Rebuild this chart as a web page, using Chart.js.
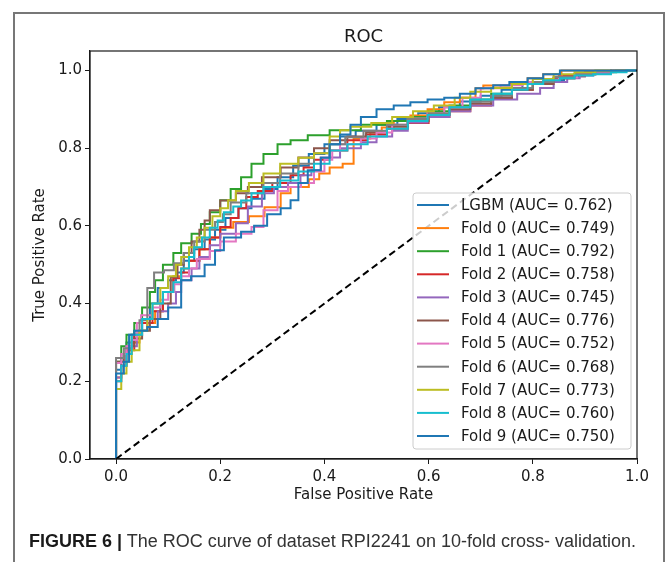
<!DOCTYPE html>
<html>
<head>
<meta charset="utf-8">
<script src="https://cdn.jsdelivr.net/npm/chart.js@4.4.0/dist/chart.umd.min.js"></script>
<style>
html, body { margin: 0; padding: 0; background: #fff; }
#wrap { position: relative; width: 670px; height: 562px; overflow: hidden; }
#frame { position: absolute; left: 13px; top: 12px; width: 648px; height: 620px; border: 2px solid #777; }
#roc { position: absolute; left: 0; top: 0; }
#caption { position: absolute; left: 29px; top: 531px; font-family: 'Liberation Sans', Arial, sans-serif; font-size: 18px; color: #333; white-space: nowrap; }
#caption b { color: #1a1a1a; }
</style>
</head>
<body>
<div id="wrap">
  <div id="frame"></div>
  <canvas id="roc" width="670" height="562"></canvas>
  <div id="caption"><b>FIGURE 6 |</b> The ROC curve of dataset RPI2241 on 10-fold cross- validation.</div>
</div>
<script>
// series: [fpr, tpr]
var seriesNames = ["LGBM", "Fold 0", "Fold 1", "Fold 2", "Fold 3", "Fold 4", "Fold 5", "Fold 6", "Fold 7", "Fold 8", "Fold 9"];
var aucValues = [0.762, 0.749, 0.792, 0.758, 0.745, 0.776, 0.752, 0.768, 0.773, 0.760, 0.750];
var xTicks = [0.0, 0.2, 0.4, 0.6, 0.8, 1.0];
var yTicks = [0.0, 0.2, 0.4, 0.6, 0.8, 1.0];

var lgbm = [[0,0],[0,0.19],[0.01,0.23],[0.02,0.27],[0.035,0.30],[0.05,0.33],[0.065,0.36],[0.08,0.40],[0.1,0.44],[0.115,0.46],[0.13,0.48],[0.15,0.51],[0.17,0.54],[0.19,0.565],[0.21,0.59],[0.235,0.62],[0.26,0.645],[0.285,0.67],[0.31,0.695],[0.34,0.725],[0.37,0.755],[0.4,0.785],[0.43,0.81],[0.46,0.83],[0.5,0.845],[0.54,0.86],[0.58,0.875],[0.62,0.89],[0.66,0.905],[0.7,0.92],[0.74,0.935],[0.78,0.95],[0.82,0.965],[0.86,0.975],[0.9,0.985],[0.95,0.995],[1,1]];
var fold0 = [[0,0],[0,0.17],[0.01,0.21],[0.02,0.24],[0.03,0.27],[0.045,0.30],[0.06,0.33],[0.075,0.35],[0.09,0.38],[0.11,0.43],[0.125,0.47],[0.14,0.49],[0.16,0.51],[0.18,0.54],[0.2,0.57],[0.225,0.595],[0.255,0.61],[0.285,0.625],[0.316,0.648],[0.335,0.684],[0.37,0.70],[0.39,0.72],[0.41,0.735],[0.435,0.75],[0.456,0.76],[0.456,0.81],[0.488,0.825],[0.51,0.84],[0.533,0.853],[0.565,0.87],[0.598,0.884],[0.63,0.90],[0.66,0.918],[0.69,0.93],[0.705,0.954],[0.757,0.961],[0.79,0.97],[0.82,0.98],[0.855,0.99],[0.89,1],[1,1]];
var fold1 = [[0,0],[0,0.2],[0.01,0.25],[0.02,0.29],[0.035,0.32],[0.05,0.35],[0.065,0.39],[0.075,0.43],[0.09,0.46],[0.11,0.5],[0.125,0.53],[0.145,0.555],[0.163,0.58],[0.18,0.605],[0.2,0.635],[0.22,0.666],[0.24,0.695],[0.26,0.725],[0.283,0.76],[0.31,0.785],[0.335,0.81],[0.368,0.82],[0.41,0.833],[0.47,0.846],[0.52,0.86],[0.56,0.87],[0.6,0.88],[0.64,0.895],[0.68,0.91],[0.72,0.925],[0.76,0.94],[0.8,0.955],[0.84,0.97],[0.88,0.98],[0.92,0.99],[0.96,0.995],[1,1]];
var fold2 = [[0,0],[0,0.16],[0.01,0.2],[0.02,0.24],[0.035,0.28],[0.05,0.32],[0.07,0.35],[0.09,0.38],[0.11,0.43],[0.125,0.465],[0.14,0.48],[0.16,0.51],[0.18,0.54],[0.2,0.57],[0.22,0.597],[0.235,0.62],[0.25,0.645],[0.272,0.674],[0.3,0.69],[0.335,0.71],[0.36,0.73],[0.38,0.75],[0.41,0.77],[0.444,0.794],[0.48,0.82],[0.52,0.835],[0.56,0.85],[0.6,0.865],[0.64,0.88],[0.68,0.895],[0.72,0.91],[0.76,0.93],[0.8,0.95],[0.85,0.97],[0.9,0.985],[0.95,0.995],[1,1]];
var fold3 = [[0,0],[0,0.17],[0.01,0.21],[0.02,0.24],[0.04,0.29],[0.06,0.33],[0.08,0.36],[0.1,0.38],[0.115,0.40],[0.125,0.43],[0.145,0.46],[0.16,0.49],[0.18,0.52],[0.2,0.55],[0.23,0.58],[0.253,0.607],[0.28,0.65],[0.303,0.684],[0.33,0.70],[0.354,0.71],[0.375,0.73],[0.393,0.743],[0.43,0.776],[0.47,0.80],[0.5,0.815],[0.53,0.83],[0.56,0.845],[0.598,0.866],[0.64,0.88],[0.68,0.895],[0.724,0.91],[0.77,0.925],[0.814,0.94],[0.84,0.955],[0.866,0.97],[0.89,0.98],[0.916,0.987],[0.95,0.993],[0.98,1],[1,1]];
var fold4 = [[0,0],[0,0.19],[0.015,0.25],[0.025,0.27],[0.035,0.29],[0.05,0.31],[0.065,0.33],[0.085,0.36],[0.105,0.40],[0.118,0.468],[0.13,0.5],[0.145,0.53],[0.16,0.56],[0.17,0.59],[0.18,0.614],[0.2,0.64],[0.23,0.665],[0.253,0.684],[0.28,0.70],[0.316,0.725],[0.35,0.75],[0.38,0.776],[0.41,0.80],[0.444,0.82],[0.48,0.83],[0.52,0.84],[0.56,0.855],[0.6,0.87],[0.64,0.885],[0.68,0.9],[0.72,0.915],[0.76,0.93],[0.8,0.95],[0.84,0.965],[0.88,0.98],[0.92,0.99],[0.96,0.997],[1,1]];
var fold5 = [[0,0],[0,0.229],[0.01,0.247],[0.02,0.27],[0.03,0.29],[0.04,0.306],[0.048,0.35],[0.07,0.37],[0.085,0.39],[0.1,0.41],[0.112,0.43],[0.125,0.45],[0.14,0.47],[0.155,0.49],[0.18,0.515],[0.2,0.535],[0.23,0.56],[0.26,0.58],[0.283,0.597],[0.31,0.64],[0.33,0.69],[0.355,0.70],[0.38,0.71],[0.4,0.74],[0.415,0.77],[0.43,0.794],[0.47,0.81],[0.5,0.825],[0.53,0.84],[0.56,0.86],[0.598,0.876],[0.63,0.89],[0.665,0.905],[0.7,0.93],[0.738,0.954],[0.78,0.962],[0.82,0.97],[0.85,0.976],[0.885,0.982],[0.92,0.99],[0.954,0.995],[1,1]];
var fold6 = [[0,0],[0,0.21],[0.015,0.26],[0.03,0.285],[0.045,0.32],[0.06,0.357],[0.06,0.41],[0.073,0.44],[0.092,0.48],[0.111,0.486],[0.13,0.504],[0.15,0.53],[0.17,0.56],[0.19,0.59],[0.205,0.61],[0.22,0.63],[0.25,0.66],[0.283,0.684],[0.315,0.71],[0.35,0.735],[0.38,0.76],[0.41,0.787],[0.44,0.81],[0.475,0.828],[0.52,0.845],[0.56,0.86],[0.6,0.875],[0.64,0.89],[0.68,0.905],[0.72,0.92],[0.76,0.935],[0.8,0.955],[0.84,0.97],[0.88,0.983],[0.92,0.99],[0.96,0.997],[1,1]];
var fold7 = [[0,0],[0,0.15],[0.01,0.18],[0.02,0.22],[0.03,0.25],[0.045,0.28],[0.06,0.33],[0.07,0.36],[0.085,0.4],[0.1,0.44],[0.115,0.47],[0.125,0.5],[0.14,0.52],[0.155,0.545],[0.17,0.57],[0.185,0.595],[0.2,0.625],[0.215,0.645],[0.23,0.666],[0.255,0.69],[0.283,0.71],[0.315,0.735],[0.35,0.76],[0.38,0.775],[0.41,0.787],[0.43,0.83],[0.45,0.846],[0.49,0.855],[0.53,0.865],[0.57,0.88],[0.61,0.895],[0.65,0.91],[0.68,0.93],[0.72,0.945],[0.76,0.955],[0.8,0.965],[0.84,0.978],[0.88,0.99],[0.92,0.995],[1,1]];
var fold8 = [[0,0],[0,0.15],[0.01,0.2],[0.02,0.24],[0.03,0.27],[0.05,0.32],[0.07,0.36],[0.09,0.40],[0.11,0.43],[0.125,0.455],[0.14,0.49],[0.15,0.52],[0.165,0.545],[0.18,0.57],[0.195,0.595],[0.207,0.614],[0.225,0.635],[0.24,0.65],[0.26,0.665],[0.283,0.684],[0.315,0.70],[0.35,0.717],[0.38,0.74],[0.41,0.76],[0.444,0.794],[0.483,0.81],[0.52,0.83],[0.56,0.85],[0.598,0.87],[0.64,0.885],[0.68,0.905],[0.724,0.925],[0.76,0.94],[0.79,0.95],[0.82,0.965],[0.852,0.975],[0.88,0.98],[0.916,0.987],[0.95,0.99],[0.98,0.995],[1,1]];
var fold9 = [[0,0],[0,0.22],[0.015,0.22],[0.025,0.25],[0.035,0.32],[0.06,0.33],[0.08,0.34],[0.1,0.36],[0.125,0.39],[0.144,0.46],[0.17,0.47],[0.19,0.50],[0.207,0.537],[0.207,0.56],[0.24,0.57],[0.265,0.585],[0.29,0.60],[0.316,0.63],[0.335,0.645],[0.35,0.666],[0.368,0.71],[0.393,0.743],[0.41,0.775],[0.43,0.81],[0.45,0.835],[0.47,0.86],[0.5,0.88],[0.533,0.90],[0.565,0.91],[0.598,0.918],[0.63,0.925],[0.66,0.93],[0.69,0.94],[0.724,0.954],[0.755,0.962],[0.79,0.97],[0.82,0.98],[0.852,0.99],[0.904,1],[1,1]];
var chanceLine = [[0,0],[1,1]];

var curves = [lgbm, fold0, fold1, fold2, fold3, fold4, fold5, fold6, fold7, fold8, fold9];
var colors = ['#1f77b4', '#ff7f0e', '#2ca02c', '#d62728', '#9467bd', '#8c564b', '#e377c2', '#7f7f7f', '#bcbd22', '#17becf', '#1f77b4'];
var FONT = "'DejaVu Sans', sans-serif";
var INK = '#1a1a1a';

function toXY(pts) {
    return pts.map(function (p) { return {x: p[0], y: p[1]}; });
}

var datasets = curves.map(function (c, i) {
    return {
        label: seriesNames[i] + ' (AUC= ' + aucValues[i].toFixed(3) + ')',
        data: toXY(c),
        showLine: true,
        stepped: 'after',
        borderColor: colors[i],
        borderWidth: 2,
        pointRadius: 0,
        fill: false,
        order: 100 - i
    };
});
datasets.push({
    label: '',
    data: toXY(chanceLine),
    showLine: true,
    borderColor: '#000',
    borderWidth: 2,
    borderDash: [7, 4],
    pointRadius: 0,
    fill: false,
    order: 0
});

// box round the axes, title and legend in the lower right
var decor = {
    id: 'decor',
    afterDatasetsDraw: function (chart) {
        var ctx = chart.ctx, a = chart.chartArea;
        ctx.save();
        ctx.strokeStyle = INK;
        ctx.lineWidth = 1.2;
        ctx.strokeRect(a.left, a.top, a.right - a.left, a.bottom - a.top);

        ctx.fillStyle = INK;
        ctx.font = '18px ' + FONT;
        ctx.textAlign = 'center';
        ctx.textBaseline = 'middle';
        ctx.fillText('ROC', (a.left + a.right) / 2, 37);

        var bx = a.right - 224, by = a.bottom - 266, bw = 218, bh = 256;
        ctx.beginPath();
        ctx.roundRect(bx, by, bw, bh, 3);
        ctx.fillStyle = 'rgba(255,255,255,0.8)';
        ctx.fill();
        ctx.strokeStyle = '#cccccc';
        ctx.lineWidth = 1;
        ctx.stroke();

        ctx.font = '15px ' + FONT;
        ctx.textAlign = 'left';
        for (var i = 0; i < curves.length; i++) {
            var ly = by + 12 + i * 23.1;
            ctx.strokeStyle = colors[i];
            ctx.lineWidth = 2;
            ctx.beginPath();
            ctx.moveTo(bx + 4, ly);
            ctx.lineTo(bx + 36, ly);
            ctx.stroke();
            ctx.fillStyle = INK;
            ctx.fillText(datasets[i].label, bx + 48, ly + 1);
        }
        ctx.restore();
    }
};

function fixedTicks(list) {
    return function (scale) {
        scale.ticks = list.map(function (v) { return {value: v}; });
    };
}

new Chart(document.getElementById('roc').getContext('2d'), {
    type: 'scatter',
    data: {datasets: datasets},
    options: {
        responsive: false,
        animation: false,
        devicePixelRatio: 1,
        layout: {padding: {top: 51, right: 33, bottom: 53, left: 0}},
        plugins: {
            legend: {display: false},
            tooltip: {enabled: false},
            title: {display: false}
        },
        scales: {
            x: {
                type: 'linear',
                min: -0.05,
                max: 1.0,
                afterBuildTicks: fixedTicks(xTicks),
                afterFit: function (s) { s.height = 50; },
                ticks: {
                    font: {family: FONT, size: 15},
                    color: INK,
                    padding: 4,
                    maxRotation: 0,
                    autoSkip: false,
                    callback: function (v) { return Number(v).toFixed(1); }
                },
                grid: {drawOnChartArea: false, drawTicks: true, tickLength: 5, color: INK},
                border: {display: true, color: INK, width: 1.2},
                title: {display: true, text: 'False Positive Rate', color: INK,
                    font: {family: FONT, size: 15}, padding: {top: 0, bottom: 5}}
            },
            y: {
                type: 'linear',
                min: 0,
                max: 1.05,
                afterBuildTicks: fixedTicks(yTicks),
                afterFit: function (s) { s.width = 90; },
                ticks: {
                    font: {family: FONT, size: 15},
                    color: INK,
                    padding: 3,
                    autoSkip: false,
                    callback: function (v) { return Number(v).toFixed(1); }
                },
                grid: {drawOnChartArea: false, drawTicks: true, tickLength: 5, color: INK},
                border: {display: true, color: INK, width: 1.2},
                title: {display: true, text: 'True Positive Rate', color: INK,
                    font: {family: FONT, size: 15}, padding: {top: 31, bottom: 0}}
            }
        }
    },
    plugins: [decor]
});
</script>
</body>
</html>
